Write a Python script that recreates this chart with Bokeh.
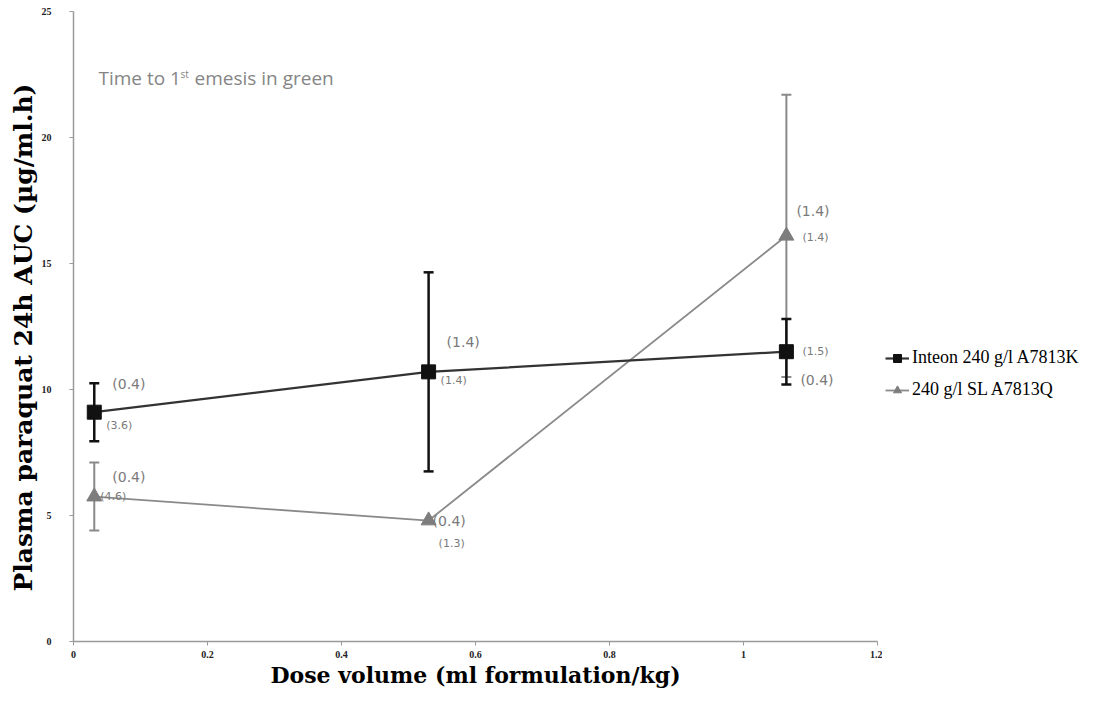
from bokeh.plotting import figure
from bokeh.layouts import row
from bokeh.models import (ColumnDataSource, Range1d, Whisker, TeeHead, Legend, LegendItem,
                          FixedTicker, Label, Title)
from bokeh.core.properties import value
from bokeh.embed import file_html
from bokeh.resources import INLINE

# ---- data ----
dose_inteon = [0.031, 0.53, 1.064]
auc_inteon = [9.1, 10.7, 11.5]
err_inteon = [1.15, 3.95, 1.3]
emesis_inteon = ["(0.4)", "(1.4)", "(0.4)"]
other_inteon = ["(3.6)", "(1.4)", "(1.5)"]

dose_sl = [0.031, 0.53, 1.064]
auc_sl = [5.75, 4.8, 16.1]
err_sl = [1.35, 0.0, 5.6]
emesis_sl = ["(0.4)", "(0.4)", "(1.4)"]
other_sl = ["(4.6)", "(1.3)", "(1.4)"]

series_names = ["Inteon 240 g/l A7813K", "240 g/l SL A7813Q"]
x_title = "Dose volume (ml formulation/kg)"
y_title = "Plasma paraquat 24h AUC (µg/ml.h)"
x_ticks = [0, 0.2, 0.4, 0.6, 0.8, 1.0, 1.2]
y_ticks = [0, 5, 10, 15, 20, 25]

BLACK = "#111111"
GREY = "#8a8a8a"
LABEL_GREY = "#7a7a7a"

p = figure(width=882, height=690, output_backend="svg", toolbar_location=None,
           x_range=Range1d(0, 1.2), y_range=Range1d(0, 25),
           min_border_left=73, min_border_right=5, min_border_top=11, min_border_bottom=48)
p.outline_line_color = None
p.xgrid.grid_line_color = None
p.ygrid.grid_line_color = None
p.background_fill_color = "white"

# axes
p.xaxis.ticker = FixedTicker(ticks=x_ticks)
p.yaxis.ticker = FixedTicker(ticks=y_ticks)
p.xaxis.major_label_overrides = {0: "0", 0.2: "0.2", 0.4: "0.4", 0.6: "0.6", 0.8: "0.8", 1.0: "1", 1.2: "1.2"}
for ax in (p.xaxis[0], p.yaxis[0]):
    ax.axis_line_color = "#9a9a9a"
    ax.axis_line_width = 1.5
    ax.major_tick_line_color = "#9a9a9a"
    ax.major_tick_out = 4
    ax.major_tick_in = 0
    ax.minor_tick_line_color = None
    ax.major_label_text_font = "Liberation Serif"
    ax.major_label_text_font_size = "10px"
    ax.major_label_text_font_style = "bold"
    ax.major_label_text_color = "#222222"
    ax.axis_label_text_font = "DejaVu Serif"
    ax.axis_label_text_font_style = "bold"
    ax.axis_label_text_color = "#000000"

p.xaxis.axis_label = x_title
p.xaxis.axis_label_text_font_size = "22px"
p.xaxis.major_label_standoff = 5
p.xaxis.axis_label_standoff = 1

p.yaxis.major_label_standoff = 18
p.add_layout(Title(text=y_title, align="left", offset=50, standoff=2,
                   text_font="DejaVu Serif", text_font_style="bold", text_font_size="25px",
                   text_color="#000000"), "left")

# sources
src_i = ColumnDataSource(dict(x=dose_inteon, y=auc_inteon,
                              lo=[a - e for a, e in zip(auc_inteon, err_inteon)],
                              hi=[a + e for a, e in zip(auc_inteon, err_inteon)],
                              t1=emesis_inteon, t2=other_inteon))
keep = [i for i, e in enumerate(err_sl) if e > 0]
src_s = ColumnDataSource(dict(x=dose_sl, y=auc_sl, t1=emesis_sl, t2=other_sl))
src_s_err = ColumnDataSource(dict(x=[dose_sl[i] for i in keep],
                                  lo=[auc_sl[i] - err_sl[i] for i in keep],
                                  hi=[auc_sl[i] + err_sl[i] for i in keep]))

# label offsets (pixels, layout only)
src_i.data["dx1"] = [18, 18, 14]
src_i.data["dy1"] = [-28, -30, 28]
src_i.data["dx2"] = [12, 12, 16]
src_i.data["dy2"] = [13, 9, 0]
src_s.data["dx1"] = [18, 4, 10]
src_s.data["dy1"] = [-20, 0, -25]
src_s.data["dx2"] = [6, 10, 16]
src_s.data["dy2"] = [0, 23, 2]

# error bars
w_s = Whisker(base="x", upper="hi", lower="lo", source=src_s_err, line_color=GREY, line_width=2,
              upper_head=TeeHead(size=10, line_color=GREY, line_width=2),
              lower_head=TeeHead(size=10, line_color=GREY, line_width=2))
w_i = Whisker(base="x", upper="hi", lower="lo", source=src_i, line_color=BLACK, line_width=2.5,
              upper_head=TeeHead(size=10, line_color=BLACK, line_width=2.5),
              lower_head=TeeHead(size=10, line_color=BLACK, line_width=2.5))
p.add_layout(w_s)
p.add_layout(w_i)

# series
l_s = p.line("x", "y", source=src_s, line_color=GREY, line_width=1.8)
m_s = p.scatter("x", "y", source=src_s, marker="triangle", size=15, fill_color="#7d7d7d",
                line_color="#7d7d7d")
l_i = p.line("x", "y", source=src_i, line_color="#333333", line_width=2.2)
m_i = p.scatter("x", "y", source=src_i, marker="square", size=14, fill_color=BLACK, line_color=BLACK)

# point annotations (grey)
lab_font = value("DejaVu Sans")
p.text("x", "y", text="t1", source=src_i, x_offset="dx1", y_offset="dy1",
       text_font=lab_font, text_font_size="14px", text_color=LABEL_GREY, text_baseline="middle")
p.text("x", "y", text="t2", source=src_i, x_offset="dx2", y_offset="dy2",
       text_font=lab_font, text_font_size="11px", text_color=LABEL_GREY, text_baseline="middle")
p.text("x", "y", text="t1", source=src_s, x_offset="dx1", y_offset="dy1",
       text_font=lab_font, text_font_size="14px", text_color=LABEL_GREY, text_baseline="middle")
p.text("x", "y", text="t2", source=src_s, x_offset="dx2", y_offset="dy2",
       text_font=lab_font, text_font_size="11px", text_color=LABEL_GREY, text_baseline="middle")

# note
p.add_layout(Label(x=25, y=551, x_units="screen", y_units="screen", text="Time to 1",
                   text_font="Open Sans", text_font_size="19px", text_color="#858585"))
p.add_layout(Label(x=107, y=561, x_units="screen", y_units="screen", text="st",
                   text_font="Open Sans", text_font_size="10px", text_color="#858585"))
p.add_layout(Label(x=121, y=551, x_units="screen", y_units="screen", text="emesis in green",
                   text_font="Open Sans", text_font_size="19px", text_color="#858585"))

# legend in a narrow companion figure (same glyph styles; proxy glyphs lie outside its range)
q = figure(width=201, height=690, output_backend="svg", toolbar_location=None,
           x_range=Range1d(0, 1), y_range=Range1d(0, 1),
           min_border_left=0, min_border_right=0, min_border_top=0, min_border_bottom=0)
q.outline_line_color = None
q.axis.visible = False
q.xgrid.grid_line_color = None
q.ygrid.grid_line_color = None
ql_i = q.line(x=[-5, -4], y=[-5, -5], line_color="#333333", line_width=2.2)
qm_i = q.scatter(x=[-5], y=[-5], marker="square", size=11, fill_color=BLACK, line_color=BLACK)
ql_s = q.line(x=[-5, -4], y=[-5, -5], line_color=GREY, line_width=1.8)
qm_s = q.scatter(x=[-5], y=[-5], marker="triangle", size=12, fill_color="#7d7d7d", line_color="#7d7d7d")
legend = Legend(items=[LegendItem(label=series_names[0], renderers=[ql_i, qm_i]),
                       LegendItem(label=series_names[1], renderers=[ql_s, qm_s])],
                location=(3, 241), orientation="vertical",
                label_text_font="Liberation Serif", label_text_font_size="18px",
                label_text_color="#000000", glyph_width=24, glyph_height=20,
                label_standoff=3, spacing=11, padding=0, margin=0,
                border_line_color=None, background_fill_alpha=0)
q.add_layout(legend)

open("out.html", "w").write(file_html(row(p, q, spacing=0), INLINE))
